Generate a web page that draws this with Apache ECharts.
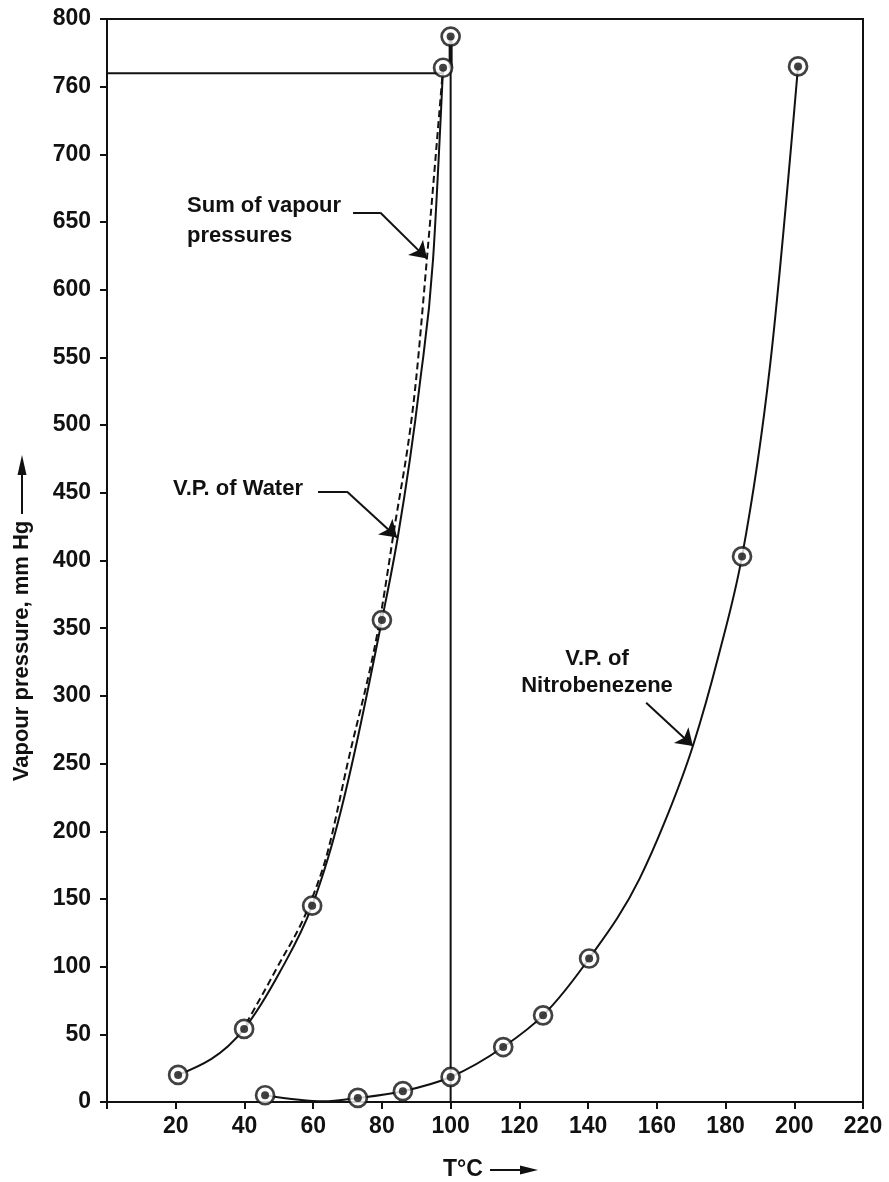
<!DOCTYPE html>
<html>
<head>
<meta charset="utf-8">
<script src="https://cdn.jsdelivr.net/npm/echarts@6/dist/echarts.min.js"></script>
<style>
  html, body { margin: 0; padding: 0; background: #fff; }
  #chart { width: 889px; height: 1182px; }
</style>
</head>
<body>
<div id="chart"></div>
<script>
// Temperature (°C) / vapour pressure (mm Hg) readings
const waterPoints = [[20.7, 20], [39.9, 54], [59.7, 145], [80, 356], [97.8, 764]];
const nitroPoints = [[46, 5], [73, 3], [86.1, 8], [100, 18.5], [115.3, 40.6], [126.9, 64], [140.3, 106], [184.8, 403], [201.1, 765]];
// traced course of the water curve between its markers
const waterCurve = [[20.7, 20], [39.9, 54], [50.3, 96], [59.7, 145], [64.3, 180], [80, 356], [84.6, 417], [91, 530], [94.9, 623], [97.8, 764]];
// traced course of the nitrobenzene curve between its markers
const nitroCurve = [[46, 5], [63, 0.5], [73, 3], [86.1, 8], [100, 18.5], [115.3, 40.6], [126.9, 64], [140.3, 106], [155, 165], [162, 205], [170.5, 263], [178, 330], [184.8, 403], [193, 545], [201.1, 765]];
// combined (water + nitrobenzene) curve, dashed
const sumCurve = [[40.5, 58], [49, 97], [59.3, 148], [63.7, 180], [70, 250], [80, 365], [83.2, 417], [90, 535], [93.1, 623], [97.8, 764]];
const sumAt100 = [[100, 787]];
const boilingLine = [[0, 760], [97.8, 760]];
const verticalLine = [[100, 0], [100, 787]];
const verticalBold = [[100, 764], [100, 787]];

const xTickLabels = ['', '20', '40', '60', '80', '100', '120', '140', '160', '180', '200', '220'];
const yTickLabels = ['0', '50', '100', '150', '200', '250', '300', '350', '400', '450', '500', '550', '600', '650', '700', '760', '800'];

// pointer lines for the curve captions: [plain leg, arrow leg]
const sumPointer = [[[71.6, 657], [79.5, 657]], [[79.5, 657], [93.1, 623]]];
const waterPointer = [[[61.4, 451], [69.8, 451]], [[69.8, 451], [84.4, 417]]];
const nitroPointer = [[[156.9, 295], [170.5, 263]]];

const captions = [
  { text: 'Sum of vapour\npressures', at: [23.3, 651], align: 'left', lineHeight: 30 },
  { text: 'V.P. of Water', at: [19.2, 453], align: 'left', lineHeight: 28 },
  { text: 'V.P. of\nNitrobenezene', at: [142.6, 317], align: 'center', lineHeight: 27 }
];

const FONT = "'Liberation Sans', Arial, Helvetica, sans-serif";
const INK = '#111';

const chart = echarts.init(document.getElementById('chart'));

// Monotone cubic (x-monotone) bezier path through pixel points
function monotonePath(p) {
  const n = p.length;
  if (n < 2) return '';
  const h = [], s = [];
  for (let i = 0; i < n - 1; i++) {
    h.push(p[i + 1][0] - p[i][0]);
    s.push((p[i + 1][1] - p[i][1]) / h[i]);
  }
  const t = new Array(n);
  for (let i = 1; i < n - 1; i++) {
    const s0 = s[i - 1], s1 = s[i];
    const q = (s0 * h[i] + s1 * h[i - 1]) / (h[i - 1] + h[i]);
    t[i] = (Math.sign(s0) + Math.sign(s1)) * Math.min(Math.abs(s0), Math.abs(s1), 0.5 * Math.abs(q)) || 0;
  }
  if (n === 2) { t[0] = s[0]; t[1] = s[0]; }
  else {
    t[0] = (3 * s[0] - t[1]) / 2;
    t[n - 1] = (3 * s[n - 2] - t[n - 2]) / 2;
  }
  let d = 'M' + p[0][0] + ' ' + p[0][1];
  for (let i = 0; i < n - 1; i++) {
    const dx = h[i] / 3;
    d += ' C' + (p[i][0] + dx) + ' ' + (p[i][1] + dx * t[i]) + ' ' +
      (p[i + 1][0] - dx) + ' ' + (p[i + 1][1] - dx * t[i + 1]) + ' ' +
      p[i + 1][0] + ' ' + p[i + 1][1];
  }
  return d;
}

function curveSeries(points, lineDash) {
  return {
    type: 'custom',
    coordinateSystem: 'cartesian2d',
    data: points,
    silent: true,
    z: 3,
    renderItem: (params, api) => {
      if (params.dataIndex !== 0) return null;
      const px = points.map(pt => api.coord(pt));
      return {
        type: 'path',
        shape: { pathData: monotonePath(px) },
        style: { fill: null, stroke: INK, lineWidth: 2, lineDash: lineDash || null }
      };
    }
  };
}

function lineSeries(data, width) {
  return {
    type: 'line',
    data: data,
    showSymbol: false,
    symbol: 'none',
    silent: true,
    lineStyle: { color: INK, width: width },
    z: 3
  };
}

const allMarkers = waterPoints.concat(nitroPoints, sumAt100);

const option = {
  animation: false,
  backgroundColor: '#fff',
  grid: {
    left: 107, right: 26, top: 19, bottom: 80,
    show: true, borderColor: INK, borderWidth: 2,
    outerBoundsMode: 'none', containLabel: false
  },
  xAxis: {
    type: 'value', min: 0, max: 220, interval: 20,
    axisLine: { show: true, onZero: false, lineStyle: { color: INK, width: 2 } },
    axisTick: { show: true, inside: false, length: 7, lineStyle: { color: INK, width: 2 } },
    axisLabel: {
      show: true, fontSize: 23, fontWeight: 'bold', color: INK, fontFamily: FONT, margin: 13,
      formatter: v => xTickLabels[Math.round(v / 20)]
    },
    splitLine: { show: false }
  },
  yAxis: {
    type: 'value', min: 0, max: 800, interval: 50,
    axisLine: { show: true, onZero: false, lineStyle: { color: INK, width: 2 } },
    axisTick: { show: true, inside: false, length: 7, lineStyle: { color: INK, width: 2 } },
    axisLabel: {
      show: true, fontSize: 23, fontWeight: 'bold', color: INK, fontFamily: FONT, margin: 16,
      formatter: v => yTickLabels[Math.round(v / 50)]
    },
    splitLine: { show: false }
  },
  series: [
    lineSeries(verticalLine, 2),
    lineSeries(verticalBold, 4),
    lineSeries(boilingLine, 2),
    curveSeries(waterCurve),
    curveSeries(sumCurve, [7, 4]),
    curveSeries(nitroCurve),
    {
      type: 'lines', coordinateSystem: 'cartesian2d', silent: true, z: 4,
      symbol: ['none', 'none'],
      lineStyle: { color: INK, width: 2, opacity: 1 },
      data: [sumPointer[0], waterPointer[0]].map(c => ({ coords: c }))
    },
    {
      type: 'lines', coordinateSystem: 'cartesian2d', silent: true, z: 4,
      symbol: ['none', 'arrow'], symbolSize: [9, 16],
      itemStyle: { color: INK },
      lineStyle: { color: INK, width: 2, opacity: 1 },
      data: [sumPointer[1], waterPointer[1], nitroPointer[0]].map(c => ({ coords: c }))
    },
    {
      type: 'scatter', data: allMarkers, symbol: 'circle', symbolSize: 18, silent: true, z: 5,
      itemStyle: { color: '#fff', borderColor: INK, borderWidth: 2.7 }
    },
    {
      type: 'scatter', data: allMarkers, symbol: 'circle', symbolSize: 8, silent: true, z: 6,
      itemStyle: { color: INK }
    }
  ]
};

chart.setOption(option);

// captions and axis titles
const graphics = captions.map(c => {
  const p = chart.convertToPixel({ gridIndex: 0 }, c.at);
  return {
    type: 'text', x: p[0], y: p[1], z: 10,
    style: {
      text: c.text, fill: INK, fontSize: 22, fontWeight: 'bold', fontFamily: FONT,
      align: c.align, verticalAlign: 'middle', lineHeight: c.lineHeight
    }
  };
});

// y-axis title, reading upwards, with its arrow
graphics.push({
  type: 'text', x: 22, y: 651, rotation: Math.PI / 2, z: 10,
  style: { text: 'Vapour pressure, mm Hg', fill: INK, fontSize: 22, fontWeight: 'bold', fontFamily: FONT, align: 'center', verticalAlign: 'middle' }
});
graphics.push({ type: 'line', z: 10, shape: { x1: 22, y1: 514, x2: 22, y2: 468 }, style: { stroke: INK, lineWidth: 2 } });
graphics.push({ type: 'polygon', z: 10, shape: { points: [[22, 455], [17.5, 475], [26.5, 475]] }, style: { fill: INK } });

// x-axis title with its arrow
graphics.push({
  type: 'text', x: 443, y: 1170, z: 10,
  style: { text: 'T°C', fill: INK, fontSize: 23, fontWeight: 'bold', fontFamily: FONT, align: 'left', verticalAlign: 'middle' }
});
graphics.push({ type: 'line', z: 10, shape: { x1: 490, y1: 1170, x2: 525, y2: 1170 }, style: { stroke: INK, lineWidth: 2 } });
graphics.push({ type: 'polygon', z: 10, shape: { points: [[538, 1170], [520, 1165.5], [520, 1174.5]] }, style: { fill: INK } });

chart.setOption({ graphic: graphics });
</script>
</body>
</html>
